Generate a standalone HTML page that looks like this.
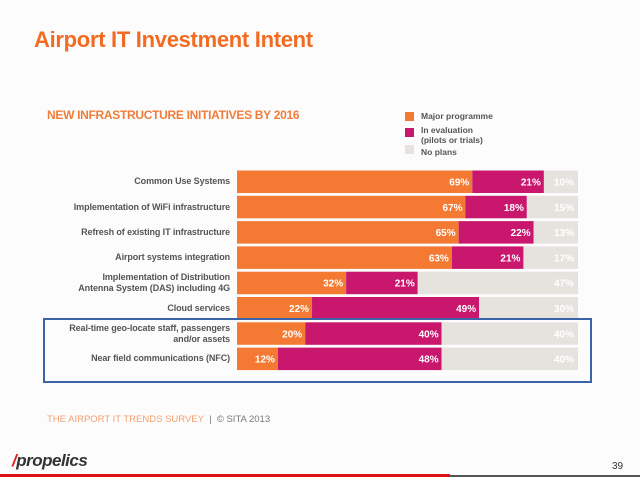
<!DOCTYPE html>
<html><head><meta charset="utf-8"><style>
body{margin:0;width:640px;height:477px;background:#fdfcfd;font-family:"Liberation Sans",sans-serif;position:relative;overflow:hidden}
.abs{position:absolute}
.title{left:34px;top:27px;font-size:22px;font-weight:bold;color:#f26b21;letter-spacing:-0.3px}
.sub{left:47px;top:108px;font-size:12px;font-weight:bold;color:#ef7d3a;letter-spacing:-0.3px}
.lg{width:9px;height:9px}
.lt{font-size:8.5px;font-weight:bold;color:#555;left:421px;line-height:10px}
.lab{right:410px;font-size:9px;font-weight:bold;color:#555;text-align:right;line-height:11px;letter-spacing:-0.1px}
</style></head><body>
<div class="abs title">Airport IT Investment Intent</div>
<div class="abs sub">NEW INFRASTRUCTURE INITIATIVES BY 2016</div>
<div>
<div class="abs lg" style="left:405px;top:112px;background:#f47a33"></div>
<div class="abs lt" style="top:111px">Major programme</div>
<div class="abs lg" style="left:405px;top:128px;background:#c9176e"></div>
<div class="abs lt" style="top:125px">In evaluation<br>(pilots or trials)</div>
<div class="abs lg" style="left:405px;top:145px;background:#e6e3df"></div>
<div class="abs lt" style="top:147px">No plans</div>
</div>
<svg class="abs" style="left:0;top:0" width="640" height="477" id="chart"></svg>
<div class="abs" style="left:43px;top:318px;width:545px;height:61px;border:2px solid #3a63a8"></div>
<div class="abs" style="left:47px;top:414px;font-size:9.5px;color:#f0a070">THE AIRPORT IT TRENDS SURVEY <span style="color:#777">&nbsp;|&nbsp; © SITA 2013</span></div>
<div class="abs" style="left:12px;top:451px;font-size:17px;font-style:italic;font-weight:bold;color:#333;letter-spacing:-0.5px"><span style="color:#e02020">/</span>propelics</div>
<div class="abs" style="left:612px;top:461px;font-size:10px;color:#333">39</div>
<div class="abs" style="left:0;top:474px;width:450px;height:3px;background:#e01010"></div>
<div class="abs" style="left:450px;top:475px;width:190px;height:2px;background:#555"></div>
<script>
const categories=["Common Use Systems","Implementation of WiFi infrastructure","Refresh of existing IT infrastructure","Airport systems integration","Implementation of Distribution\nAntenna System (DAS) including 4G","Cloud services","Real-time geo-locate staff, passengers\nand/or assets","Near field communications (NFC)"];
const major=[69,67,65,63,32,22,20,12];
const evaluation=[21,18,22,21,21,49,40,48];
const noPlans=[10,15,13,17,47,30,40,40];
const X0=237,W=341,Y0=170.5,STEP=25.3,BH=22.5;
const xs=v=>v/100*W;
const svg=document.getElementById('chart');
const NS='http://www.w3.org/2000/svg';
function rect(x,y,w,h,fill,name){const r=document.createElementNS(NS,'rect');r.setAttribute('x',x);r.setAttribute('y',y);r.setAttribute('width',Math.max(0,w));r.setAttribute('height',h);r.setAttribute('fill',fill);


svg.appendChild(r);}
function txt(x,y,s,fill,name){const t=document.createElementNS(NS,'text');t.setAttribute('x',x);t.setAttribute('y',y);t.setAttribute('fill',fill);t.setAttribute('text-anchor','end');t.setAttribute('font-size','10');t.setAttribute('font-weight','bold');t.setAttribute('font-family','Liberation Sans, sans-serif');t.textContent=s;


svg.appendChild(t);}
categories.forEach((c,i)=>{
  const y=Y0+i*STEP;
  const a=xs(major[i]),b=xs(evaluation[i]);
  const c3=Math.min(xs(noPlans[i]),W-a-b);
  rect(X0,y,a,BH,'#f47a33','bar-major');
  rect(X0+a,y,b,BH,'#c9176e','bar-evaluation');
  rect(X0+a+b,y,c3,BH,'#e6e3df','bar-no-plans');
  txt(X0+a-3,y+15,major[i]+'%','#fff','value-major');
  txt(X0+a+b-3,y+15,evaluation[i]+'%','#fff','value-evaluation');
  txt(X0+W-4,y+15,noPlans[i]+'%','#fff','value-no-plans');
  const lines=c.split('\n');
  lines.forEach((l,k)=>{
    const d=document.createElement('div');
    d.className='abs lab';
    
    
    d.style.top=(y+BH/2-lines.length*5.5+k*11)+'px';
    d.textContent=l;
    document.body.appendChild(d);
  });
});
</script>
</body></html>
